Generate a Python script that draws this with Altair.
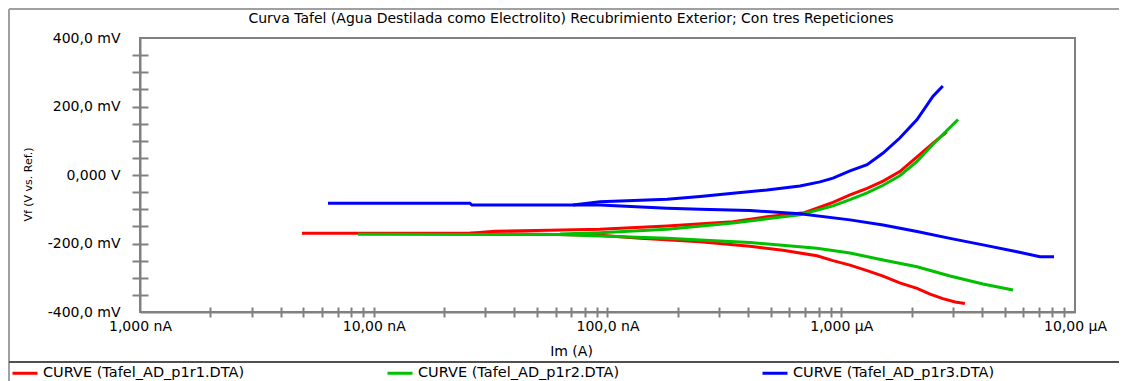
import altair as alt
import pandas as pd

# ---------------- data ----------------
series_names = ["CURVE (Tafel_AD_p1r1.DTA)", "CURVE (Tafel_AD_p1r2.DTA)", "CURVE (Tafel_AD_p1r3.DTA)"]
series_colors = ["#FF0000", "#00C000", "#0000FF"]

# p1r1 (red) : current (A), potential (mV)
r1_cat_I = [4.93e-9, 2.58e-8, 9.29e-8, 1.38e-7, 2.49e-7, 4.07e-7, 5.63e-7, 7.87e-7, 9.22e-7, 1.09e-6, 1.29e-6, 1.51e-6, 1.78e-6, 2.11e-6, 2.40e-6, 2.72e-6, 3.07e-6, 3.38e-6]
r1_cat_E = [-170.2, -170.2, -176, -184.8, -194.7, -208, -220, -236, -250, -263, -279, -295, -315, -331, -348, -361, -371, -375]
r1_an_I = [2.58e-8, 3.30e-8, 5.67e-8, 9.29e-8, 1.80e-7, 3.44e-7, 4.81e-7, 6.95e-7, 7.87e-7, 9.22e-7, 1.09e-6, 1.29e-6, 1.51e-6, 1.78e-6, 2.11e-6, 2.47e-6, 2.83e-6]
r1_an_E = [-170.2, -164, -161, -158.5, -148.9, -136.4, -122, -110, -97, -80, -58, -39, -18, 10, 53, 93, 126]

# p1r2 (green)
r2_cat_I = [8.56e-9, 6.27e-8, 9.29e-8, 1.80e-7, 2.49e-7, 4.07e-7, 7.87e-7, 1.09e-6, 1.51e-6, 2.11e-6, 2.92e-6, 4.04e-6, 5.43e-6]
r2_cat_E = [-173.1, -174, -178, -185, -190, -197, -214, -228, -248, -268, -295, -318, -336]
r2_an_I = [6.27e-8, 9.29e-8, 1.80e-7, 3.44e-7, 4.81e-7, 6.66e-7, 9.22e-7, 1.09e-6, 1.29e-6, 1.51e-6, 1.78e-6, 2.11e-6, 2.47e-6, 2.83e-6, 3.16e-6]
r2_an_E = [-172, -168.5, -158.5, -140, -128, -116, -90, -72, -52, -30, -2, 40, 90, 130, 162]

# p1r3 (blue)
r3_cat_I = [6.37e-9, 2.58e-8, 2.63e-8, 9.29e-8, 1.80e-7, 2.49e-7, 4.07e-7, 6.66e-7, 1.09e-6, 1.51e-6, 2.11e-6, 2.92e-6, 4.04e-6, 5.65e-6, 7.08e-6, 8.13e-6]
r3_cat_E = [-82.6, -82.6, -87.6, -87.6, -97.2, -100, -104, -113, -131, -146, -165, -185, -204, -224, -238.5, -238.5]
r3_an_I = [7.12e-8, 9.29e-8, 1.80e-7, 2.49e-7, 3.44e-7, 4.81e-7, 6.66e-7, 8.11e-7, 9.22e-7, 1.09e-6, 1.29e-6, 1.51e-6, 1.78e-6, 2.11e-6, 2.47e-6, 2.72e-6]
r3_an_E = [-87.6, -78, -71, -63, -53.4, -43.8, -32, -20, -9, 12, 30, 64, 108, 162, 230, 260]

# axis ticks / labels
x_label_values = [1e-9, 1e-8, 1e-7, 1e-6, 1e-5]
x_label_texts = ["1,000 nA", "10,00 nA", "100,0 nA", "1,000 \u00b5A", "10,00 \u00b5A"]
x_minor_mult = [2, 3, 4, 5, 6, 7, 8, 9, 10]
x_decades = [1e-9, 1e-8, 1e-7, 1e-6]
y_label_values = [400, 200, 0, -200, -400]
y_label_texts = ["400,0 mV", "200,0 mV", "0,000 V", "-200,0 mV", "-400,0 mV"]
y_tick_values = [-350, -300, -250, -200, -150, -100, -50, 0, 50, 100, 150, 200, 250, 300, 350]

title_text = "Curva Tafel (Agua Destilada como Electrolito) Recubrimiento Exterior;  Con tres Repeticiones"
x_title = "Im (A)"
y_title = "Vf (V vs. Ref.)"

# ---------------- build table ----------------
branches = [
    (series_names[0], "cat", r1_cat_I, r1_cat_E),
    (series_names[0], "an", r1_an_I, r1_an_E),
    (series_names[1], "cat", r2_cat_I, r2_cat_E),
    (series_names[1], "an", r2_an_I, r2_an_E),
    (series_names[2], "cat", r3_cat_I, r3_cat_E),
    (series_names[2], "an", r3_an_I, r3_an_E),
]
rows = []
for s, b, I, E in branches:
    for k, (i, e) in enumerate(zip(I, E)):
        rows.append({"current": i, "potential": e, "series": s, "key": s + b, "idx": k})
df = pd.DataFrame(rows)

x_tick_values = [d * m for d in x_decades for m in x_minor_mult if d * m < 9.99e-6]


def cond_expr(values, texts):
    expr = "''"
    for v, t in reversed(list(zip(values, texts))):
        expr = f"abs(datum.value - ({v!r})) <= {abs(v) * 1e-6 + 1e-15!r} ? '{t}' : " + expr
    return expr


FONT = "DejaVu Sans"
GRAY = "#808080"

x_scale = alt.Scale(type="log", domain=[1e-9, 1e-5], nice=False)
y_scale = alt.Scale(domain=[-400, 400], nice=False, zero=False)

base = alt.Chart(df)

lines = base.mark_line(strokeWidth=3, clip=True).encode(
    x=alt.X("current:Q", scale=x_scale, axis=alt.Axis(
        orient="bottom",
        values=x_label_values, labelExpr=cond_expr(x_label_values, x_label_texts),
        ticks=False, tickSize=0, labelPadding=7, labelFlush=False, labelOverlap=False,
        domainColor=GRAY, domainWidth=2, grid=False,
        labelFont=FONT, labelFontSize=14, labelColor="black",
        title=x_title, titleFont=FONT, titleFontSize=14, titleFontWeight="normal",
        titleColor="black", titleX=431, titleY=39, titleBaseline="middle")),
    y=alt.Y("potential:Q", scale=y_scale, axis=alt.Axis(
        orient="left",
        values=y_label_values, labelExpr=cond_expr(y_label_values, y_label_texts),
        ticks=False, tickSize=0, labelPadding=20, labelFlush=False, labelOverlap=False,
        domainColor=GRAY, domainWidth=2, grid=False,
        labelFont=FONT, labelFontSize=14, labelColor="black",
        title=y_title, titleFont=FONT, titleFontSize=11, titleFontWeight="normal",
        titleColor="black", titleX=-112, titleY=146, titleBaseline="middle")),
    color=alt.Color("series:N", scale=alt.Scale(domain=series_names, range=series_colors),
                    legend=alt.Legend(title=None, orient="none", legendX=-129, legendY=321,
                                      direction="horizontal", symbolType="stroke",
                                      symbolStrokeWidth=3, symbolSize=625, labelOffset=4,
                                      columnPadding=136, labelLimit=400,
                                      labelFont=FONT, labelFontSize=14.5, labelColor="black")),
    detail="key:N",
    order="idx:Q",
)

outer_ticks = base.mark_line(strokeOpacity=0).encode(
    x=alt.X("current:Q", scale=x_scale, axis=alt.Axis(
        orient="bottom",
        values=x_tick_values, labels=False, domain=False, grid=False, title=None,
        ticks=True, tickSize=5, tickWidth=2, tickColor=GRAY)),
    y=alt.Y("potential:Q", scale=y_scale, axis=alt.Axis(
        orient="left",
        values=y_tick_values, labels=False, domain=False, grid=False, title=None,
        ticks=True, tickSize=8, tickWidth=2, tickColor=GRAY)),
)

inner_ticks = base.mark_line(strokeOpacity=0).encode(
    x=alt.X("current:Q", scale=x_scale, axis=alt.Axis(
        orient="bottom", offset=-5,
        values=x_tick_values, labels=False, domain=False, grid=False, title=None,
        ticks=True, tickSize=5, tickWidth=2, tickColor=GRAY)),
    y=alt.Y("potential:Q", scale=y_scale, axis=alt.Axis(
        orient="left", offset=-8,
        values=y_tick_values, labels=False, domain=False, grid=False, title=None,
        ticks=True, tickSize=8, tickWidth=2, tickColor=GRAY)),
)

one = alt.Data(values=[{"a": 1}])
title_mark = alt.Chart(one).mark_text(
    text=title_text, font=FONT, fontSize=14, align="center", baseline="middle", color="black"
).encode(x=alt.value(431), y=alt.value(-19))
top_border = alt.Chart(one).mark_rule(color="#A0A0A0", strokeWidth=2).encode(
    x=alt.value(-131), x2=alt.value(979), y=alt.value(-29))
left_border = alt.Chart(one).mark_rule(color="#A0A0A0", strokeWidth=2).encode(
    x=alt.value(-131), y=alt.value(-29), y2=alt.value(343))
legend_sep = alt.Chart(one).mark_rule(color="#505050", strokeWidth=2).encode(
    x=alt.value(-131), x2=alt.value(979), y=alt.value(324))

chart = alt.layer(lines, outer_ticks, inner_ticks, title_mark, top_border, left_border, legend_sep).resolve_axis(
    x="independent", y="independent"
).properties(
    width=935, height=274,
    autosize="none",
    padding={"left": 132, "top": 30, "right": 44, "bottom": 69},
).configure_view(stroke=GRAY, strokeWidth=2)

chart.save("out.html", embed_options={"renderer": "svg", "actions": False})
